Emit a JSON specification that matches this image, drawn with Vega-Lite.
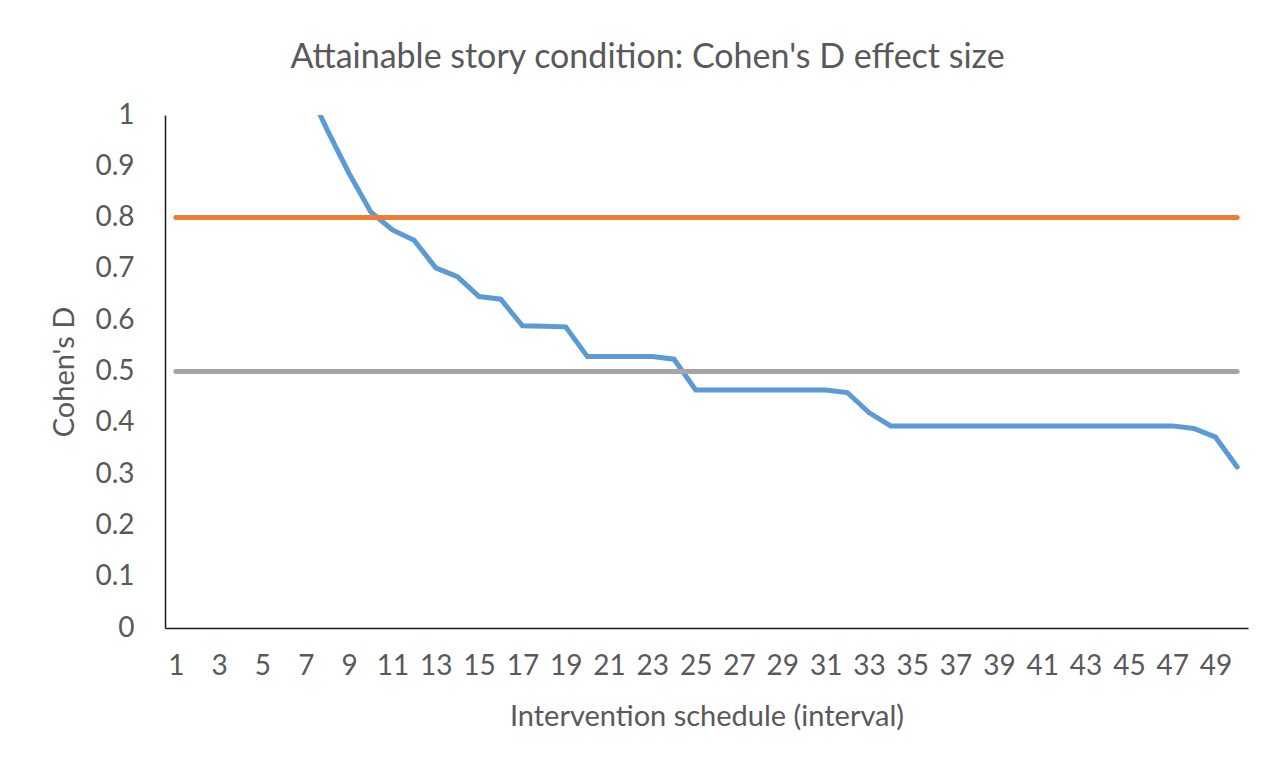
{
  "$schema": "https://vega.github.io/schema/vega-lite/v6.json",
  "width": 1083,
  "height": 513,
  "autosize": {"type": "none"},
  "padding": {"left": 165, "top": 115, "right": 38, "bottom": 144},
  "background": "white",
  "config": {
    "view": {"stroke": null},
    "font": "Lato",
    "axis": {"grid": false, "ticks": false, "labelColor": "#595959", "titleColor": "#595959", "labelFont": "Lato", "titleFont": "Lato", "labelFontSize": 28, "titleFontSize": 29, "titleFontWeight": "normal", "domainColor": "#1a1a1a", "domainWidth": 1.5}
  },
  "title": {"text": "Attainable story condition: Cohen's D effect size", "font": "Lato", "fontSize": 34, "fontWeight": "normal", "color": "#595959", "anchor": "middle", "dx": -59, "offset": 26},
  "data": {"values": [
    {"i": 1, "d": 1.95, "large": 0.8, "medium": 0.5},
    {"i": 2, "d": 1.72, "large": 0.8, "medium": 0.5},
    {"i": 3, "d": 1.53, "large": 0.8, "medium": 0.5},
    {"i": 4, "d": 1.38, "large": 0.8, "medium": 0.5},
    {"i": 5, "d": 1.25, "large": 0.8, "medium": 0.5},
    {"i": 6, "d": 1.15, "large": 0.8, "medium": 0.5},
    {"i": 7, "d": 1.06, "large": 0.8, "medium": 0.5},
    {"i": 8, "d": 0.97, "large": 0.8, "medium": 0.5},
    {"i": 9, "d": 0.886, "large": 0.8, "medium": 0.5},
    {"i": 10, "d": 0.811, "large": 0.8, "medium": 0.5},
    {"i": 11, "d": 0.776, "large": 0.8, "medium": 0.5},
    {"i": 12, "d": 0.756, "large": 0.8, "medium": 0.5},
    {"i": 13, "d": 0.702, "large": 0.8, "medium": 0.5},
    {"i": 14, "d": 0.685, "large": 0.8, "medium": 0.5},
    {"i": 15, "d": 0.646, "large": 0.8, "medium": 0.5},
    {"i": 16, "d": 0.641, "large": 0.8, "medium": 0.5},
    {"i": 17, "d": 0.589, "large": 0.8, "medium": 0.5},
    {"i": 18, "d": 0.588, "large": 0.8, "medium": 0.5},
    {"i": 19, "d": 0.587, "large": 0.8, "medium": 0.5},
    {"i": 20, "d": 0.529, "large": 0.8, "medium": 0.5},
    {"i": 21, "d": 0.529, "large": 0.8, "medium": 0.5},
    {"i": 22, "d": 0.529, "large": 0.8, "medium": 0.5},
    {"i": 23, "d": 0.529, "large": 0.8, "medium": 0.5},
    {"i": 24, "d": 0.524, "large": 0.8, "medium": 0.5},
    {"i": 25, "d": 0.464, "large": 0.8, "medium": 0.5},
    {"i": 26, "d": 0.464, "large": 0.8, "medium": 0.5},
    {"i": 27, "d": 0.464, "large": 0.8, "medium": 0.5},
    {"i": 28, "d": 0.464, "large": 0.8, "medium": 0.5},
    {"i": 29, "d": 0.464, "large": 0.8, "medium": 0.5},
    {"i": 30, "d": 0.464, "large": 0.8, "medium": 0.5},
    {"i": 31, "d": 0.464, "large": 0.8, "medium": 0.5},
    {"i": 32, "d": 0.459, "large": 0.8, "medium": 0.5},
    {"i": 33, "d": 0.42, "large": 0.8, "medium": 0.5},
    {"i": 34, "d": 0.394, "large": 0.8, "medium": 0.5},
    {"i": 35, "d": 0.394, "large": 0.8, "medium": 0.5},
    {"i": 36, "d": 0.394, "large": 0.8, "medium": 0.5},
    {"i": 37, "d": 0.394, "large": 0.8, "medium": 0.5},
    {"i": 38, "d": 0.394, "large": 0.8, "medium": 0.5},
    {"i": 39, "d": 0.394, "large": 0.8, "medium": 0.5},
    {"i": 40, "d": 0.394, "large": 0.8, "medium": 0.5},
    {"i": 41, "d": 0.394, "large": 0.8, "medium": 0.5},
    {"i": 42, "d": 0.394, "large": 0.8, "medium": 0.5},
    {"i": 43, "d": 0.394, "large": 0.8, "medium": 0.5},
    {"i": 44, "d": 0.394, "large": 0.8, "medium": 0.5},
    {"i": 45, "d": 0.394, "large": 0.8, "medium": 0.5},
    {"i": 46, "d": 0.394, "large": 0.8, "medium": 0.5},
    {"i": 47, "d": 0.394, "large": 0.8, "medium": 0.5},
    {"i": 48, "d": 0.389, "large": 0.8, "medium": 0.5},
    {"i": 49, "d": 0.372, "large": 0.8, "medium": 0.5},
    {"i": 50, "d": 0.314, "large": 0.8, "medium": 0.5}
  ]},
  "encoding": {
    "x": {"field": "i", "type": "ordinal", "scale": {"type": "point", "padding": 0.5},
      "axis": {"title": "Intervention schedule (interval)", "labelAngle": 0, "labelPadding": 24, "titlePadding": 22,
        "values": [1,3,5,7,9,11,13,15,17,19,21,23,25,27,29,31,33,35,37,39,41,43,45,47,49]}}
  },
  "layer": [
    {"mark": {"type": "line", "color": "#5B9BD5", "strokeWidth": 5, "strokeCap": "round", "strokeJoin": "miter", "clip": true},
     "encoding": {"y": {"field": "d", "type": "quantitative", "scale": {"domain": [0, 1], "nice": false},
       "axis": {"title": "Cohen's D", "values": [0,0.1,0.2,0.3,0.4,0.5,0.6,0.7,0.8,0.9,1], "labelPadding": 31, "titlePadding": 15, "labelExpr": "datum.value === 0 ? '0' : datum.value === 1 ? '1' : format(datum.value, '.1f')"}}}},
    {"mark": {"type": "line", "color": "#ED7D31", "strokeWidth": 5, "strokeCap": "round", "clip": true},
     "encoding": {"y": {"field": "large", "type": "quantitative"}}},
    {"mark": {"type": "line", "color": "#A5A5A5", "strokeWidth": 5, "strokeCap": "round", "clip": true},
     "encoding": {"y": {"field": "medium", "type": "quantitative"}}}
  ]
}
